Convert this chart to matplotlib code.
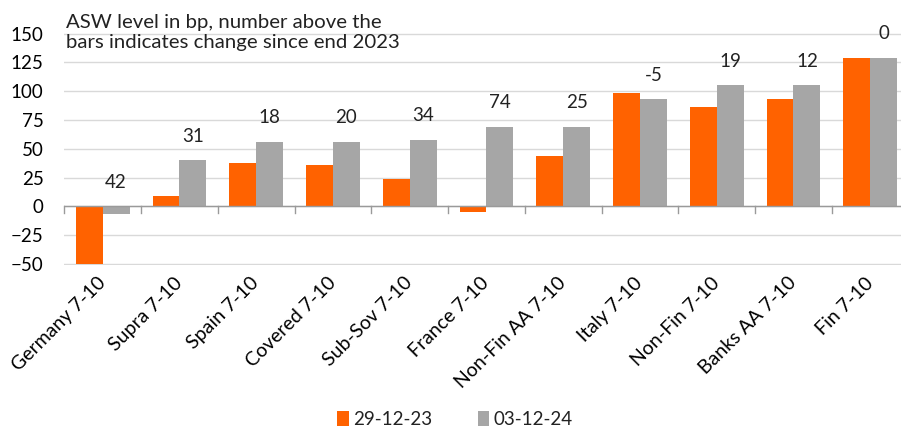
import numpy as np
import matplotlib
matplotlib.use('Agg')
import matplotlib.pyplot as plt

categories = ["Germany 7-10", "Supra 7-10", "Spain 7-10", "Covered 7-10", "Sub-Sov 7-10",
              "France 7-10", "Non-Fin AA 7-10", "Italy 7-10", "Non-Fin 7-10",
              "Banks AA 7-10", "Fin 7-10"]
asw_end_2023 = [-50, 9, 38, 36, 24, -5, 44, 98, 86, 93, 129]
asw_now = [-7, 40, 56, 56, 58, 69, 69, 93, 105, 105, 129]
changes = [42, 31, 18, 20, 34, 74, 25, -5, 19, 12, 0]
series_names = ["29-12-23", "03-12-24"]

ORANGE = '#FF6200'
GREY = '#A6A6A6'

plt.rcParams['font.family'] = ['Lato', 'DejaVu Sans']
plt.rcParams['text.color'] = '#222222'

fig = plt.figure(figsize=(9.01, 4.30), dpi=100)
ax = fig.add_axes([0.0714, 0.384, 0.937, 0.54])

x = np.arange(len(categories))
w = 0.35
ax.bar(x - w / 2, asw_end_2023, w, color=ORANGE, label=series_names[0], zorder=3)
ax.bar(x + w / 2, asw_now, w, color=GREY, label=series_names[1], zorder=3)

for xi, g, c in zip(x, asw_now, changes):
    ax.text(xi + w / 2, max(g, 0) + 21, str(c), ha='center', va='center', fontsize=13.5)

ax.set_ylim(-50.8, 150.8)
ax.set_xlim(-0.5, len(categories) - 0.5)
ax.set_yticks(np.arange(-50, 151, 25))
ax.yaxis.grid(True, color='#d9d9d9', linewidth=1, zorder=0)
ax.tick_params(axis='y', length=0, pad=15, labelsize=13.5)

for s in ax.spines.values():
    s.set_visible(False)
ax.axhline(0, color='#9a9a9a', linewidth=1, zorder=4)
# tick marks between categories on the zero line
for b in np.arange(-0.5, len(categories), 1.0):
    ax.plot([b, b], [0, -6], color='#9a9a9a', linewidth=1, zorder=4, clip_on=False)

ax.set_xticks(x)
ax.set_xticklabels(categories, rotation=45, ha='right', va='center', rotation_mode='anchor', fontsize=14)
ax.tick_params(axis='x', length=0, pad=11)

ax.text(0.002, 1.0, "ASW level in bp, number above the\nbars indicates change since end 2023",
        transform=ax.transAxes, ha='left', va='center', fontsize=14.7, linespacing=1.25)

fig.legend(loc='lower center', bbox_to_anchor=(0.505, -0.035), ncol=2, frameon=False,
           fontsize=13.5, handlelength=0.6, handleheight=0.9, handletextpad=0.25, columnspacing=2.4)

fig.savefig('out.png', dpi=100)
